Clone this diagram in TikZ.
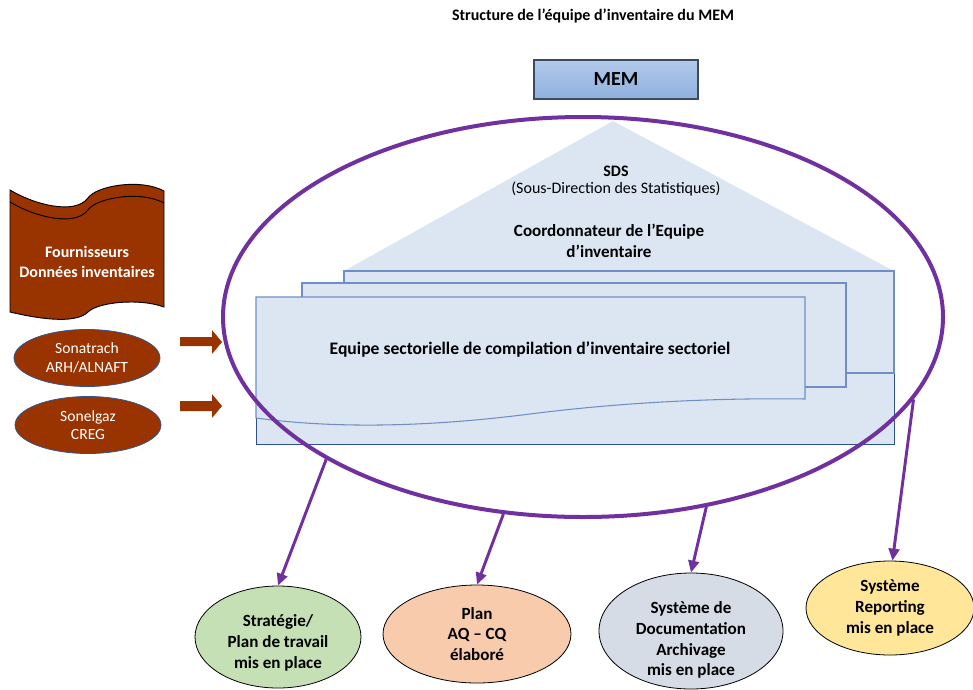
\documentclass[tikz,border=0pt]{standalone}
\usepackage{fontspec}
\setmainfont{Carlito}
\usetikzlibrary{shapes.geometric,arrows.meta}
\definecolor{ringpurple}{HTML}{7030A0}
\definecolor{brownfill}{HTML}{993300}
\definecolor{paleblue}{HTML}{DCE6F2}
\definecolor{docline}{HTML}{6F8FC4}
\definecolor{outerline}{HTML}{2F528F}
\definecolor{memtop}{HTML}{B3CAEA}
\definecolor{membot}{HTML}{8FB0DE}
\definecolor{memline}{HTML}{3A4A64}
\definecolor{greenfill}{HTML}{C5E0B4}
\definecolor{orangefill}{HTML}{F8CBAD}
\definecolor{grayfill}{HTML}{D6DCE5}
\definecolor{yellowfill}{HTML}{FFE699}
\definecolor{srcline}{HTML}{2F5597}
\begin{document}
\begin{tikzpicture}[x=0.75pt,y={(0pt,-0.75pt)},
  txt/.style={font=\fontsize{12}{15}\selectfont, align=center, inner sep=0pt},
  btxt/.style={font=\fontsize{12}{15.5}\selectfont\bfseries, align=center, inner sep=0pt},
  docshape/.style={fill=paleblue, draw=docline, line width=0.8pt},
  result/.style={ellipse, draw=black, line width=0.6pt, inner sep=0pt, align=center,
    font=\fontsize{12.8}{15.6}\selectfont\bfseries},
  srcell/.style={ellipse, draw=srcline, line width=0.6pt, fill=brownfill, text=white, inner sep=0pt,
    align=center, minimum width=109.5pt, minimum height=42.75pt, font=\fontsize{11.7}{14}\selectfont},
  purplearrow/.style={draw=ringpurple, line width=2.2pt, -{Triangle[length=9pt,width=8pt]}},
  blockarrow/.style={fill=brownfill, draw=none}
]
\useasboundingbox (0,0) rectangle (973,689);

% title
\node[btxt] (title) at (593,16) {Structure de l’équipe d’inventaire du MEM};

% triangle (SDS)
\fill[paleblue] (613,121) -- (894,271) -- (344,271) -- cycle;

% outer document area
\draw[fill=paleblue, draw=outerline, line width=0.7pt] (256,317) rectangle (894,444);
% back document
\draw[docshape] (344,271) rectangle (894,373);
% middle document
\draw[docshape] (302,283) rectangle (846,387);
% front document with wavy bottom
\draw[docshape] (256,297) -- (805,297) -- (805,399)
  .. controls (740,398) and (640,400) .. (530,414)
  .. controls (420,428) and (330,428) .. (256,418) -- cycle;

% texts in the triangle
\node[btxt] (sds) at (616,171) {SDS};
\node[txt] (sdsfull) at (616,189) {(Sous-Direction des Statistiques)};
\node[btxt, font=\fontsize{12.8}{15.6}\selectfont\bfseries] (coord) at (609,241) {Coordonnateur de l’Equipe\\d’inventaire};
\node[btxt, font=\fontsize{13.2}{16}\selectfont\bfseries] (equipe) at (530,349) {Equipe sectorielle de compilation d’inventaire sectoriel};

% purple ring
\node[ellipse, draw=ringpurple, line width=3pt, minimum width=540pt, minimum height=300pt, inner sep=0pt] (ring) at (583,317) {};

% MEM box
\node[draw=memline, line width=1pt, top color=memtop, bottom color=membot,
  minimum width=123pt, minimum height=29.25pt, inner sep=0pt,
  font=\fontsize{15}{18}\selectfont\bfseries] (mem) at (616,79.5) {MEM};

% suppliers scroll
\draw[fill=brownfill, draw=black, line width=0.7pt]
  (10,190) .. controls (35,205) and (75,215) .. (88,198)
  .. controls (96,186) and (140,178) .. (164,191) -- (164,307)
  .. controls (140,298) and (98,302) .. (88,312)
  .. controls (75,325) and (35,318) .. (10,312) -- cycle;
\draw[black, line width=0.7pt]
  (10,202) .. controls (35,217) and (75,227) .. (88,210)
  .. controls (96,198) and (140,190) .. (164,203);
\node[btxt, text=white] (fourn) at (87,262) {Fournisseurs\\Données inventaires};

% sources
\node[srcell] (sonatrach) at (87,358) {Sonatrach\\ARH/ALNAFT};
\node[srcell] (sonelgaz) at (88,425) {Sonelgaz\\CREG};

% block arrows
\fill[blockarrow] (180,337) -- (212,337) -- (212,330) -- (222,342) -- (212,354) -- (212,346) -- (180,346) -- cycle;
\fill[blockarrow] (180,401) -- (212,401) -- (212,394) -- (222,406) -- (212,418) -- (212,411) -- (180,411) -- cycle;

% result ellipses
\node[result, fill=greenfill, minimum width=124.5pt, minimum height=76.5pt] (strat) at (278,637) {};
\node[btxt, font=\fontsize{12.8}{15.6}\selectfont\bfseries] (strattxt) at (278,643) {Stratégie/\\Plan de travail\\mis en place};
\node[result, fill=orangefill, minimum width=141pt, minimum height=73.5pt] (plan) at (477,634) {Plan\\AQ – CQ\\élaboré};
\node[result, fill=grayfill, minimum width=138pt, minimum height=87pt] (doc) at (691,631) {};
\node[btxt, font=\fontsize{12.8}{15.6}\selectfont\bfseries] (doctxt) at (691,640) {Système de\\Documentation\\Archivage\\mis en place};
\node[result, fill=yellowfill, minimum width=126pt, minimum height=70.5pt] (rep) at (890,608) {Système\\Reporting\\mis en place};

% purple arrows
\draw[purplearrow] (ring.209.2) -- (strat.north);
\draw[purplearrow] (ring.248.2) -- (plan.north);
\draw[purplearrow] (ring.303.2) -- (doc.north);
\draw[purplearrow] (ring.346.2) -- (rep.87);
\end{tikzpicture}
\end{document}
